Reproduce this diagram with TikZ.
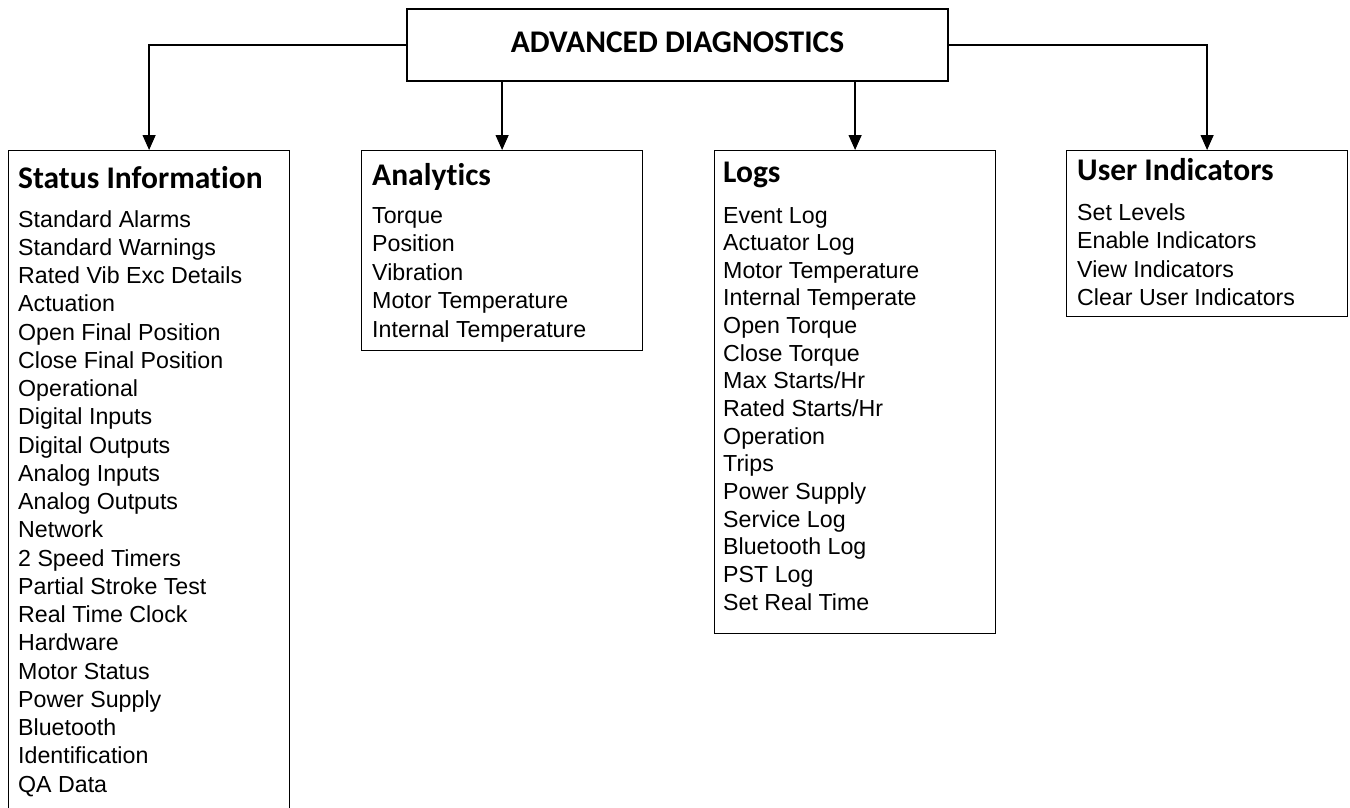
\documentclass[tikz,border=0pt]{standalone}
\usepackage{fontspec}
\setmainfont{Liberation Sans}
\newfontfamily\hdrfont{Carlito}[Ligatures=NoCommon]
\usetikzlibrary{arrows.meta}
\begin{document}
\begin{tikzpicture}[x=1pt,y=-1pt,
  box/.style={draw, line width=1.2pt, rectangle, inner sep=0pt, minimum width=281pt, anchor=north west},
  hdr/.style={font=\hdrfont\bfseries\fontsize{31.5}{36}\selectfont, inner sep=0pt, anchor=base west},
  ttl/.style={font=\hdrfont\bfseries\fontsize{31.5}{36}\selectfont, inner sep=0pt, anchor=base},
  itm/.style={font=\fontsize{23.2}{28}\selectfont, inner sep=0pt, anchor=base west},
  arr/.style={draw, line width=1.3pt, -{Triangle[width=13pt,length=15pt]}}]
\useasboundingbox (0,0) rectangle (1350,808);
\clip (0,0) rectangle (1350,808);
% top box
\node[draw, line width=1.2pt, rectangle, inner sep=0pt, minimum width=541pt, minimum height=72pt] (top) at (677.5,45) {};
\node[ttl] (title) at (677.5,53) {ADVANCED DIAGNOSTICS};
% boxes
\node[box, minimum height=700pt] (st) at (8,150) {};
\node[box, minimum height=200pt] (an) at (361,150) {};
\node[box, minimum height=483pt] (lg) at (714,150) {};
\node[box, minimum height=166pt] (ui) at (1066,150) {};
% connectors
\draw[arr] (top.west) -| (st.north);
\draw[arr] (top.east) -| (ui.north);
\draw[arr] (top.south -| an.north) -- (an.north);
\draw[arr] (top.south -| lg.north) -- (lg.north);
% headers
\node[hdr] (sth) at (18,188) {Status Information};
\node[hdr] (anh) at (372,185) {Analytics};
\node[hdr] (lgh) at (723,182) {Logs};
\node[hdr] (uih) at (1077,180) {User Indicators};
% items
\foreach \t [count=\i] in {Standard Alarms, Standard Warnings, Rated Vib Exc Details, Actuation, Open Final Position, Close Final Position, Operational, Digital Inputs, Digital Outputs, Analog Inputs, Analog Outputs, Network, 2 Speed Timers, Partial Stroke Test, Real Time Clock, Hardware, Motor Status, Power Supply, Bluetooth, Identification, QA Data}
  \node[itm] (st-\i) at (18,{227+28.25*(\i-1)}) {\t};
\foreach \t [count=\i] in {Torque, Position, Vibration, Motor Temperature, Internal Temperature}
  \node[itm] (an-\i) at (372,{223+28.5*(\i-1)}) {\t};
\foreach \t [count=\i] in {Event Log, Actuator Log, Motor Temperature, Internal Temperate, Open Torque, Close Torque, Max Starts/Hr, Rated Starts/Hr, Operation, Trips, Power Supply, Service Log, Bluetooth Log, PST Log, Set Real Time}
  \node[itm] (lg-\i) at (723,{223+27.65*(\i-1)}) {\t};
\foreach \t [count=\i] in {Set Levels, Enable Indicators, View Indicators, Clear User Indicators}
  \node[itm] (ui-\i) at (1077,{220+28.6*(\i-1)}) {\t};
\end{tikzpicture}
\end{document}
